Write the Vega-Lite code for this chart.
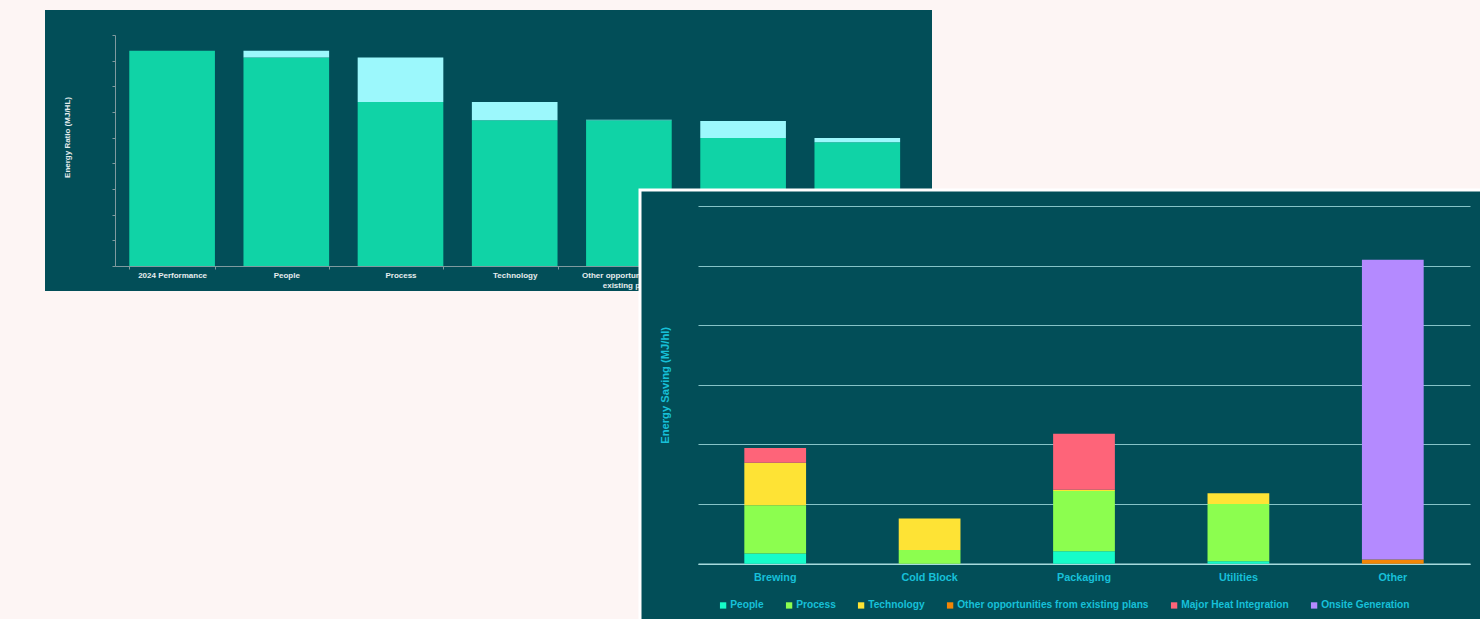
{
  "$schema": "https://vega.github.io/schema/vega-lite/v6.json",
  "background": "#fdf5f4",
  "padding": {"left": 45, "top": 10, "right": 0, "bottom": 0},
  "autosize": {"type": "pad"},
  "config": {"view": {"stroke": null}},
  "datasets": {
    "ratio": [
      {"stage": "2024 Performance", "remaining": 8.39, "previous": 8.39},
      {"stage": "People", "remaining": 8.12, "previous": 8.39},
      {"stage": "Process", "remaining": 6.39, "previous": 8.12},
      {"stage": "Technology", "remaining": 5.68, "previous": 6.39},
      {"stage": "Other opportunities from existing plans", "remaining": 5.68, "previous": 5.70},
      {"stage": "Major Heat Integration", "remaining": 4.99, "previous": 5.65},
      {"stage": "Onsite Generation", "remaining": 4.82, "previous": 4.99}
    ],
    "saving": [
      {"area": "Brewing", "lever": "People", "k": 1, "value": 0.17},
      {"area": "Brewing", "lever": "Process", "k": 2, "value": 0.81},
      {"area": "Brewing", "lever": "Technology", "k": 3, "value": 0.715},
      {"area": "Brewing", "lever": "Major Heat Integration", "k": 5, "value": 0.245},
      {"area": "Cold Block", "lever": "Process", "k": 2, "value": 0.23},
      {"area": "Cold Block", "lever": "Technology", "k": 3, "value": 0.53},
      {"area": "Packaging", "lever": "People", "k": 1, "value": 0.21},
      {"area": "Packaging", "lever": "Process", "k": 2, "value": 1.01},
      {"area": "Packaging", "lever": "Technology", "k": 3, "value": 0.02},
      {"area": "Packaging", "lever": "Major Heat Integration", "k": 5, "value": 0.94},
      {"area": "Utilities", "lever": "People", "k": 1, "value": 0.04},
      {"area": "Utilities", "lever": "Process", "k": 2, "value": 0.96},
      {"area": "Utilities", "lever": "Technology", "k": 3, "value": 0.18},
      {"area": "Other", "lever": "Other opportunities from existing plans", "k": 4, "value": 0.07},
      {"area": "Other", "lever": "Onsite Generation", "k": 6, "value": 5.03}
    ]
  },
  "spacing": 0,
  "bounds": "flush",
  "resolve": {"scale": {"x": "independent", "y": "independent", "color": "independent"}},
  "vconcat": [
    {
      "width": 887,
      "height": 180,
      "view": {"fill": "#024e58", "stroke": null},
      "data": {"name": "ratio"},
      "encoding": {
        "x": {
          "field": "stage", "type": "nominal", "sort": null,
          "scale": {"range": [70, 869.4], "paddingInner": 0.25, "paddingOuter": 0.125},
          "axis": null
        },
        "y": {
          "field": "remaining", "type": "quantitative",
          "scale": {"domain": [0, 9], "range": [256, 25], "nice": false},
          "axis": null
        }
      },
      "layer": [
        {"mark": {"type": "bar", "color": "#10d3a6", "clip": true}},
        {"mark": {"type": "bar", "color": "#9cf8fc", "clip": true}, "encoding": {"y2": {"field": "previous"}}}
      ]
    },
    {
      "hconcat": [
        {
          "width": 595,
          "height": 101,
          "view": {"fill": "#024e58", "stroke": null},
          "data": {"name": "ratio"},
          "encoding": {
            "x": {
              "field": "stage", "type": "nominal", "sort": null,
              "scale": {"range": [70, 869.4], "paddingInner": 0.25, "paddingOuter": 0.125},
              "axis": {
                "title": null, "offset": -25, "labelAngle": 0,
                "labelColor": "#e6ecee", "labelFont": "Liberation Sans", "labelFontSize": 8, "labelFontWeight": "bold",
                "labelPadding": 2, "labelLimit": 0, "labelLineHeight": 10,
                "tickSize": 3, "tickColor": "#7f9a9f", "tickBand": "extent", "domainColor": "#7f9a9f",
                "labelExpr": "datum.label == 'Other opportunities from existing plans' ? ['Other opportunities from', 'existing plans'] : datum.label == 'Major Heat Integration' ? ['Major Heat', 'Integration'] : datum.label == 'Onsite Generation' ? ['Onsite', 'Generation'] : datum.label"
              }
            },
            "y": {
              "field": "remaining", "type": "quantitative",
              "scale": {"domain": [0, 9], "range": [76, -155], "nice": false},
              "axis": {
                "title": "Energy Ratio (MJ/HL)", "offset": -70, "labels": false, "grid": false,
                "values": [0, 1, 2, 3, 4, 5, 6, 7, 8, 9], "tickCount": 10,
                "tickSize": 3, "tickColor": "#7f9a9f", "domainColor": "#7f9a9f",
                "titleColor": "#e6ecee", "titleFont": "Liberation Sans", "titleFontSize": 8, "titleFontWeight": "bold",
                "titlePadding": 40, "titleY": -53
              }
            }
          },
          "layer": [
            {"mark": {"type": "bar", "color": "#10d3a6", "clip": true}},
            {"mark": {"type": "bar", "color": "#9cf8fc", "clip": true}, "encoding": {"y2": {"field": "previous"}}}
          ]
        },
        {
          "width": 843,
          "height": 432,
          "view": {"fill": "#024e58", "stroke": "#ffffff", "strokeWidth": 3},
          "data": {"name": "saving"},
          "mark": {"type": "bar"},
          "encoding": {
            "x": {
              "field": "area", "type": "nominal",
              "sort": ["Brewing", "Cold Block", "Packaging", "Utilities", "Other"],
              "scale": {"range": [58, 830], "paddingInner": 0.6, "paddingOuter": 0.3},
              "axis": {
                "title": null, "offset": -58.3, "labelAngle": 0,
                "labelColor": "#17c0d8", "labelFont": "Liberation Sans", "labelFontSize": 10.8, "labelFontWeight": "bold",
                "labelPadding": 8, "ticks": false, "domainColor": "#a8dadd", "domainWidth": 1.5
              }
            },
            "y": {
              "field": "value", "type": "quantitative", "stack": "zero",
              "scale": {"domain": [0, 6], "range": [373.7, 16], "nice": false},
              "axis": {
                "title": "Energy Saving (MJ/hl)", "grid": true, "gridColor": "#86c3c7", "gridWidth": 1.2,
                "domain": false, "ticks": false, "labels": false, "values": [0, 1, 2, 3, 4, 5, 6],
                "titleColor": "#17c0d8", "titleFont": "Liberation Sans", "titleFontSize": 11.2, "titleFontWeight": "bold",
                "titleX": 30
              }
            },
            "color": {
              "field": "lever", "type": "nominal",
              "sort": ["People", "Process", "Technology", "Other opportunities from existing plans", "Major Heat Integration", "Onsite Generation"],
              "scale": {
                "domain": ["People", "Process", "Technology", "Other opportunities from existing plans", "Major Heat Integration", "Onsite Generation"],
                "range": ["#16fcc9", "#8cfe4f", "#fee335", "#f28607", "#fe6479", "#b48aff"]
              },
              "legend": {
                "title": null, "orient": "none", "legendX": 78, "legendY": 410, "direction": "horizontal",
                "symbolType": "square", "symbolSize": 40, "symbolStrokeWidth": 0, "labelOffset": 2,
                "columnPadding": 20, "labelLimit": 400,
                "labelColor": "#17c0d8", "labelFont": "Liberation Sans", "labelFontSize": 10.2, "labelFontWeight": "bold"
              }
            },
            "order": {"field": "k", "type": "quantitative"}
          }
        }
      ],
      "spacing": 0,
      "bounds": "flush",
      "resolve": {"scale": {"x": "independent", "y": "independent", "color": "independent"}}
    }
  ]
}
